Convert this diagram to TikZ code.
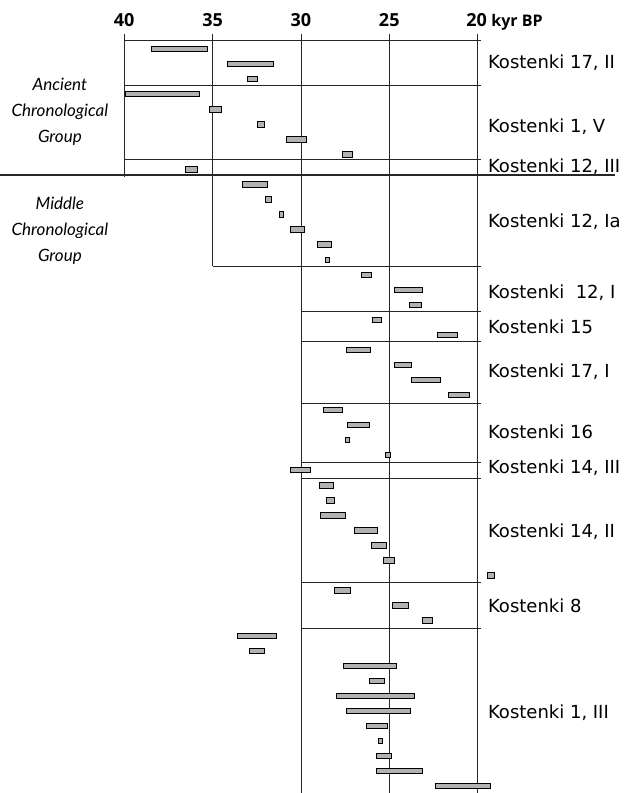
\documentclass[tikz,border=0pt]{standalone}
\usepackage{fontspec}
\setmainfont{DejaVu Sans}
\newfontfamily\groupfont{Lato}
\newfontfamily\axisfont{Open Sans}
\usepackage{tikz}

\begin{document}
\begin{tikzpicture}[x=-17.67pt, y=-1pt,
  gridline/.style={black!85, line width=0.8pt},
  datebar/.style={draw=black, line width=0.8pt, fill=black!30},
  site/.style={anchor=base west, inner sep=0pt, font=\fontsize{18}{20}\selectfont},
  group/.style={align=center, inner sep=0pt, font=\groupfont\itshape\fontsize{17}{26}\selectfont},
  tick/.style={anchor=base, inner sep=0pt, font=\axisfont\bfseries\fontsize{18}{20}\selectfont}]
  \useasboundingbox (47.03,0) rectangle (11.60,793);
  % time axis
  \node[tick] (t40) at (40,26) {40};
  \node[tick] (t35) at (35,26) {35};
  \node[tick] (t30) at (30,26) {30};
  \node[tick] (t25) at (25,26) {25};
  \node[tick] (t20) at (20.05,26) {20};
  \node[anchor=base west, inner sep=0pt, font=\axisfont\bfseries\fontsize{16}{18}\selectfont]
    (unit) at ([xshift=4pt]t20.base east) {kyr BP};
  % vertical lines
  \draw[gridline] (40,34) -- (40,177);
  \draw[gridline] (35,34) -- (35,266);
  \draw[gridline] (30,34) -- (30,793);
  \draw[gridline] (25,34) -- (25,793);
  \draw[gridline] (20,34) -- (20,793);
  % horizontal lines
  \draw[gridline] (40,40) -- (19.8,40);
  \draw[gridline] (40,85) -- (19.8,85);
  \draw[gridline] (40,159) -- (19.8,159);
  \draw[gridline, line width=1.2pt] (47.03,175) -- (12.2,175);
  \draw[gridline] (35,266) -- (19.8,266);
  \draw[gridline] (30,311) -- (19.8,311);
  \draw[gridline] (30,341) -- (19.8,341);
  \draw[gridline] (30,403) -- (19.8,403);
  \draw[gridline] (30,462) -- (19.8,462);
  \draw[gridline] (30,478) -- (19.8,478);
  \draw[gridline] (30,582) -- (19.8,582);
  \draw[gridline] (30,628) -- (19.8,628);
  % dates
  \draw[datebar] (38.45,46.3) rectangle (35.3,51.7);
  \draw[datebar] (34.17,61.3) rectangle (31.57,66.7);
  \draw[datebar] (33.05,76.4) rectangle (32.49,81.8);
  \draw[datebar] (39.96,91.4) rectangle (35.77,96.8);
  \draw[datebar] (35.2,106.5) rectangle (34.5,111.9);
  \draw[datebar] (32.47,121.5) rectangle (32.05,126.9);
  \draw[datebar] (30.8,136.5) rectangle (29.7,141.9);
  \draw[datebar] (27.66,151.6) rectangle (27.1,157.0);
  \draw[datebar] (36.56,166.6) rectangle (35.87,172.0);
  \draw[datebar] (33.3,181.7) rectangle (31.9,187.1);
  \draw[datebar] (32.0,196.7) rectangle (31.68,202.1);
  \draw[datebar] (31.23,211.7) rectangle (30.98,217.1);
  \draw[datebar] (30.62,226.8) rectangle (29.81,232.2);
  \draw[datebar] (29.09,241.8) rectangle (28.3,247.2);
  \draw[datebar] (28.6,256.9) rectangle (28.36,262.3);
  \draw[datebar] (26.57,271.9) rectangle (26.0,277.3);
  \draw[datebar] (24.7,286.9) rectangle (23.1,292.3);
  \draw[datebar] (23.84,302.0) rectangle (23.2,307.4);
  \draw[datebar] (25.98,317.0) rectangle (25.45,322.4);
  \draw[datebar] (22.29,332.1) rectangle (21.13,337.5);
  \draw[datebar] (27.44,347.1) rectangle (26.04,352.5);
  \draw[datebar] (24.73,362.1) rectangle (23.77,367.5);
  \draw[datebar] (23.76,377.2) rectangle (22.13,382.6);
  \draw[datebar] (21.67,392.2) rectangle (20.46,397.6);
  \draw[datebar] (28.7,407.3) rectangle (27.66,412.7);
  \draw[datebar] (27.38,422.3) rectangle (26.15,427.7);
  \draw[datebar] (27.47,437.3) rectangle (27.28,442.7);
  \draw[datebar] (25.2,452.4) rectangle (24.94,457.8);
  \draw[datebar] (30.62,467.4) rectangle (29.47,472.8);
  \draw[datebar] (28.98,482.5) rectangle (28.15,487.9);
  \draw[datebar] (28.58,497.5) rectangle (28.13,502.9);
  \draw[datebar] (28.89,512.5) rectangle (27.47,517.9);
  \draw[datebar] (26.98,527.6) rectangle (25.66,533.0);
  \draw[datebar] (26.0,542.6) rectangle (25.15,548.0);
  \draw[datebar] (25.34,557.7) rectangle (24.72,563.1);
  \draw[datebar] (19.46,572.7) rectangle (19.06,578.1);
  \draw[datebar] (28.11,587.7) rectangle (27.19,593.1);
  \draw[datebar] (24.8,602.8) rectangle (23.9,608.2);
  \draw[datebar] (23.15,617.8) rectangle (22.55,623.2);
  \draw[datebar] (33.6,632.9) rectangle (31.4,638.3);
  \draw[datebar] (32.93,647.9) rectangle (32.09,653.3);
  \draw[datebar] (27.6,662.9) rectangle (24.6,668.3);
  \draw[datebar] (26.1,678.0) rectangle (25.3,683.4);
  \draw[datebar] (28.0,693.0) rectangle (23.6,698.4);
  \draw[datebar] (27.45,708.1) rectangle (23.83,713.5);
  \draw[datebar] (26.3,723.1) rectangle (25.1,728.5);
  \draw[datebar] (25.6,738.1) rectangle (25.4,743.5);
  \draw[datebar] (25.7,753.2) rectangle (24.9,758.6);
  \draw[datebar] (25.7,768.2) rectangle (23.1,773.6);
  \draw[datebar] (22.4,783.3) rectangle (19.25,788.7);
  % sites
  \node[site] (k17ii) at (19.42,68) {Kostenki 17, II};
  \node[site] (k1v) at (19.42,132) {Kostenki 1, V};
  \node[site] (k12iii) at (19.42,172) {Kostenki 12, III};
  \node[site] (k12ia) at (19.42,227) {Kostenki 12, Ia};
  \node[site] (k12i) at (19.42,298) {Kostenki \ 12, I};
  \node[site] (k15) at (19.42,333) {Kostenki 15};
  \node[site] (k17i) at (19.42,377) {Kostenki 17, I};
  \node[site] (k16) at (19.42,438) {Kostenki 16};
  \node[site] (k14iii) at (19.42,473) {Kostenki 14, III};
  \node[site] (k14ii) at (19.42,537) {Kostenki 14, II};
  \node[site] (k8) at (19.42,612) {Kostenki 8};
  \node[site] (k1iii) at (19.42,718) {Kostenki 1, III};
  % groups
  \node[group] (ancient) at (43.64,112) {Ancient\\Chronological\\Group};
  \node[group] (middle) at (43.64,230.5) {Middle\\Chronological\\Group};
\end{tikzpicture}
\end{document}
